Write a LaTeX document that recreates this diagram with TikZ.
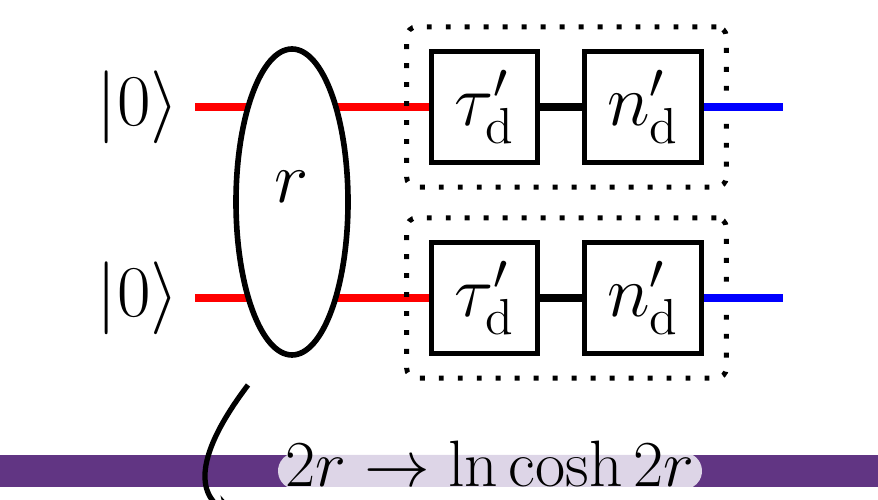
\documentclass[tikz,border=0pt]{standalone}
\usetikzlibrary{shapes.geometric,shapes.misc,fit,backgrounds,arrows.meta}
\definecolor{barpurple}{RGB}{97,53,131}
\definecolor{pilllilac}{RGB}{221,213,231}
\tikzset{
  wire/.style={line width=2pt},
  gatebox/.style={draw, line width=1.5pt, minimum width=1.065cm,
    minimum height=1.11cm, inner sep=0pt, font=\huge},
  detbox/.style={draw, line width=1.4pt, line cap=butt,
    dash pattern=on 1.4pt off 4pt, rounded corners=0.1cm, inner sep=0.22cm},
}
\begin{document}
\begin{tikzpicture}
  \useasboundingbox (0,0) rectangle (8.78,5);
  %
  % Input states
  \node[font=\huge] (ket1) at (1.38,3.93) {$|0\rangle$};
  \node[font=\huge] (ket2) at (1.38,2.02) {$|0\rangle$};
  %
  % Two-mode squeezer
  \node[ellipse, draw, fill=white, line width=1.6pt, minimum width=1.12cm,
    minimum height=3.06cm, inner sep=0pt, text depth=0.3cm, font=\huge]
    (sq) at (2.92,2.98) {$r$};
  %
  % Detector chains
  \node[gatebox] (tau1) at (4.845,3.93) {$\tau'_{\mathrm{d}}$};
  \node[gatebox, minimum width=1.175cm] (n1) at (6.43,3.93) {$n'_{\mathrm{d}}$};
  \node[gatebox] (tau2) at (4.845,2.02) {$\tau'_{\mathrm{d}}$};
  \node[gatebox, minimum width=1.175cm] (n2) at (6.43,2.02) {$n'_{\mathrm{d}}$};
  \node[detbox, fit=(tau1)(n1)] (det1) {};
  \node[detbox, fit=(tau2)(n2)] (det2) {};
  \coordinate (out1) at (7.83,3.93);
  \coordinate (out2) at (7.83,2.02);
  %
  % Wires
  \begin{scope}[on background layer]
    \draw[wire, red, shorten <=0.04cm] (ket1.east) -- (tau1.west);
    \draw[wire, red, shorten <=0.04cm] (ket2.east) -- (tau2.west);
  \end{scope}
  \draw[wire] (tau1) -- (n1);
  \draw[wire] (tau2) -- (n2);
  \draw[wire, blue] (n1) -- (out1);
  \draw[wire, blue] (n2) -- (out2);
  %
  % Mapping bar
  \fill[barpurple] (0,0.13) rectangle (8.78,0.45);
  \node[fill=pilllilac, rounded rectangle, rounded rectangle arc length=120,
    minimum width=4.24cm, minimum height=0.32cm, inner sep=0pt] (mappill) at (4.90,0.29) {};
  \node[font=\LARGE, anchor=base] (map) at (4.90,0.13)
    {\scalebox{1.08}{$2r \to \ln\cosh 2r$}};
  %
  % Curved arrow
  \coordinate (bendtop) at (2.48,1.15);
  \coordinate (bendend) at (2.42,-0.2);
  \draw[line width=1.5pt, -{Stealth[length=0.3cm]}]
    (bendtop) .. controls (1.95,0.45) and (1.95,0.05) .. (bendend);
\end{tikzpicture}
\end{document}
